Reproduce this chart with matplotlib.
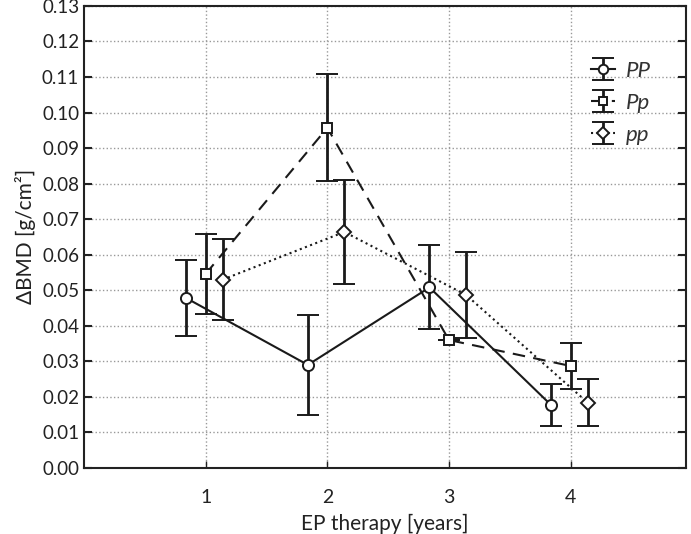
import numpy as np
import matplotlib.pyplot as plt

plt.rcParams['font.family'] = ['Lato', 'DejaVu Sans']

years = [1, 2, 3, 4]
groups = ['PP', 'Pp', 'pp']

# mean change in BMD and error (half-width of bars)
PP_mean = [0.0478, 0.0290, 0.0508, 0.0177]
PP_err = [0.0108, 0.0140, 0.0118, 0.0060]
Pp_mean = [0.0546, 0.0957, 0.0360, 0.0287]
Pp_err = [0.0113, 0.0150, 0.0, 0.0065]
pp_mean = [0.0530, 0.0664, 0.0487, 0.0184]
pp_err = [0.0113, 0.0147, 0.0122, 0.0065]


def main():
    fig = plt.figure(figsize=(6.91, 5.34), dpi=100)
    ax = fig.add_axes([0.1216, 0.1236, 0.8714, 0.8654])

    x = np.array(years, dtype=float)
    style = dict(color='#1a1a1a', capsize=8, capthick=2.2, elinewidth=2,
                 markersize=8, markerfacecolor='white', markeredgewidth=1.4,
                 linewidth=1.5)
    ax.errorbar(x - 0.16, PP_mean, yerr=PP_err, fmt='o', linestyle='-',
                label=groups[0], **style)
    ax.errorbar(x, Pp_mean, yerr=Pp_err, fmt='s', linestyle=(0, (6, 4)),
                label=groups[1], **dict(style, markersize=7))
    ax.errorbar(x + 0.14, pp_mean, yerr=pp_err, fmt='D', linestyle=':',
                label=groups[2], **dict(style, markersize=7))

    ax.set_xlim(0, 4.95)
    ax.set_ylim(0, 0.13)
    ax.set_xticks(years)
    ax.set_yticks(np.arange(0, 0.131, 0.01))
    ax.set_yticklabels(['%.2f' % v for v in np.arange(0, 0.131, 0.01)])
    ax.tick_params(axis='y', direction='in', left=True, right=True,
                   length=6, width=1.5, labelsize=13.5, colors='#222222')
    ax.tick_params(axis='x', direction='in', length=5, width=1,
                   labelsize=14, pad=15, colors='#222222')
    ax.grid(True, linestyle=':', color='#999999', linewidth=1)
    for s in ax.spines.values():
        s.set_linewidth(1.5)
        s.set_color('#222222')

    ax.set_xlabel('EP therapy [years]', fontsize=15, color='#222222',
                  labelpad=6)
    ax.set_ylabel('ΔBMD [g/cm²]', fontsize=15, color='#222222')

    leg = ax.legend(loc='upper right', frameon=False, fontsize=16,
                    bbox_to_anchor=(0.975, 0.925), handlelength=1.1,
                    labelspacing=0.55, handletextpad=0.5, markerscale=0.85)
    for t in leg.get_texts():
        t.set_fontstyle('italic')
        t.set_color('#333333')

    fig.savefig('out.png', dpi=100)


if __name__ == '__main__':
    main()
